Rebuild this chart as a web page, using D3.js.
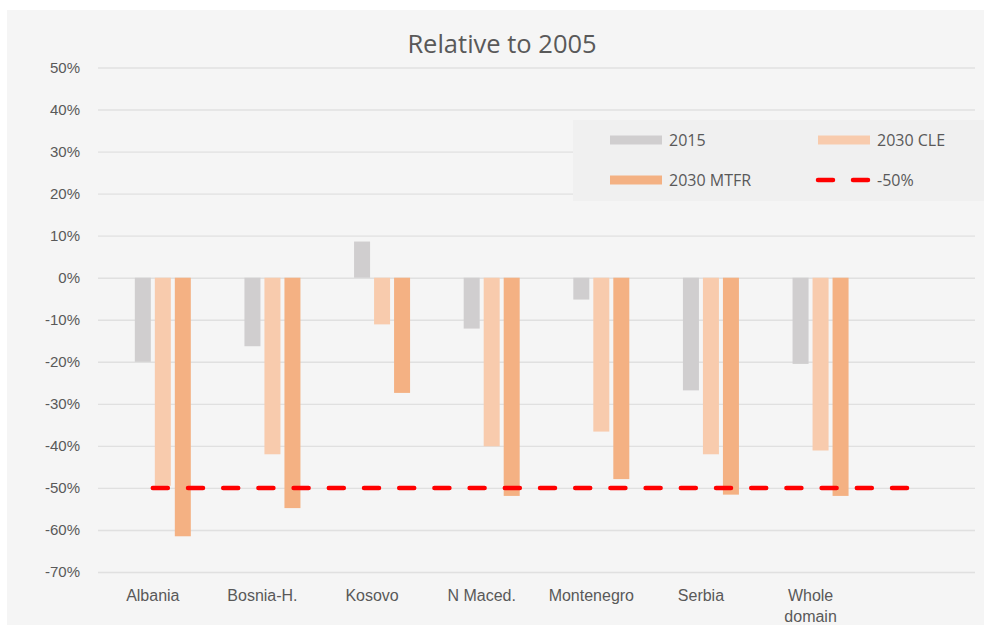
<!DOCTYPE html>
<html>
<head>
<meta charset="utf-8">
<script src="https://cdn.jsdelivr.net/npm/d3@7"></script>
<style>
  html, body { margin: 0; padding: 0; background: #ffffff; }
  svg { display: block; font-family: "Open Sans", "Noto Sans", sans-serif; }
</style>
</head>
<body>
<svg id="chart" width="984" height="625"></svg>
<script>
// Countries on the x axis; the trailing blank slot keeps the axis running past the last group.
const categories = ["Albania", "Bosnia-H.", "Kosovo", "N Maced.", "Montenegro", "Serbia", "Whole domain", ""];
// Change relative to 2005, in percent
const values2015 = [-20.0, -16.3, 8.6, -12.1, -5.2, -26.8, -20.5];
const values2030CLE = [-49.5, -42.0, -11.1, -40.1, -36.6, -42.0, -41.1];
const values2030MTFR = [-61.5, -54.8, -27.4, -51.9, -47.9, -51.6, -51.9];
// Reduction target line, one point per axis slot
const target = [-50, -50, -50, -50, -50, -50, -50, -50];
const yTicks = [50, 40, 30, 20, 10, 0, -10, -20, -30, -40, -50, -60, -70];

const barSeries = [
  { name: "2015", values: values2015, color: "#d0cecf" },
  { name: "2030 CLE", values: values2030CLE, color: "#f8cbad" },
  { name: "2030 MTFR", values: values2030MTFR, color: "#f4b183" }
];

const svg = d3.select("#chart");
const textColor = "#595959";

// chart panel
svg.append("rect").attr("x", 7).attr("y", 10).attr("width", 977).attr("height", 615).attr("fill", "#f5f5f5");

const x0 = d3.scaleBand().domain(categories).range([98, 975]).paddingInner(0).paddingOuter(0);
// each cluster leaves room for four columns; the first one stays empty
const x1 = d3.scaleBand()
  .domain(["spare"].concat(barSeries.map(s => s.name)))
  .range([x0.bandwidth() / 2 - 40, x0.bandwidth() / 2 + 40])
  .paddingInner(0.2).paddingOuter(0.1);
const y = d3.scaleLinear().domain([-70, 50]).range([572, 67.5]);

// gridlines and y labels
const yAxis = d3.axisLeft(y).tickValues(yTicks).tickFormat(d => d + "%").tickSize(-(975 - 98)).tickPadding(18);
const gy = svg.append("g").attr("transform", "translate(98,0)").call(yAxis);
gy.select(".domain").remove();
gy.selectAll(".tick line").attr("stroke", "#e0e0e0").attr("stroke-width", 1.4);
gy.selectAll(".tick text").attr("fill", textColor).attr("font-size", 15).attr("x", -18);

// x labels
const xAxis = d3.axisBottom(x0).tickSize(0).tickPadding(0);
const gx = svg.append("g").attr("transform", "translate(0,585)").call(xAxis);
gx.select(".domain").remove();
gx.selectAll(".tick text")
  .attr("fill", textColor).attr("font-size", 16).attr("dy", null).attr("y", 16)
  .each(function(d) {
    const words = d.split(" ");
    if (d === "Whole domain") {
      const t = d3.select(this).text(null);
      words.forEach((w, i) => t.append("tspan").attr("x", 0).attr("dy", i === 0 ? 0 : 21).text(w));
    }
  });

// bars
const groups = svg.append("g").selectAll("g")
  .data(barSeries).join("g").attr("fill", s => s.color);
groups.selectAll("rect")
  .data(s => s.values.map((v, i) => ({ name: s.name, cat: categories[i], v })))
  .join("rect")
  .attr("x", d => x0(d.cat) + x1(d.name))
  .attr("width", x1.bandwidth())
  .attr("y", d => y(Math.max(0, d.v)))
  .attr("height", d => Math.abs(y(d.v) - y(0)));

// -50% target line through the slot centres
const line = d3.line().x((d, i) => x0(categories[i]) + x0.bandwidth() / 2).y(d => y(d));
svg.append("path").datum(target)
  .attr("d", line).attr("fill", "none").attr("stroke", "#ff0000")
  .attr("stroke-width", 4.5).attr("stroke-dasharray", "15,20.2").attr("stroke-linecap", "round");

// title
svg.append("text").attr("x", 502).attr("y", 53).attr("text-anchor", "middle")
  .attr("fill", textColor).attr("font-size", 25.5).text("Relative to 2005");

// legend
const legend = svg.append("g");
legend.append("rect").attr("x", 573).attr("y", 120).attr("width", 411).attr("height", 81).attr("fill", "#f0f0f0");
const legendItems = [
  { name: "2015", color: "#d0cecf", x: 610, y: 140, kind: "bar" },
  { name: "2030 CLE", color: "#f8cbad", x: 818, y: 140, kind: "bar" },
  { name: "2030 MTFR", color: "#f4b183", x: 610, y: 180, kind: "bar" },
  { name: "-50%", color: "#ff0000", x: 818, y: 180, kind: "line" }
];
legendItems.forEach(it => {
  if (it.kind === "bar") {
    legend.append("rect").attr("x", it.x).attr("y", it.y - 4.5).attr("width", 52).attr("height", 9).attr("fill", it.color);
  } else {
    legend.append("line").attr("x1", it.x).attr("x2", it.x + 52).attr("y1", it.y).attr("y2", it.y)
      .attr("stroke", it.color).attr("stroke-width", 4.5).attr("stroke-linecap", "round")
      .attr("stroke-dasharray", "15,20");
  }
  legend.append("text").attr("x", it.x + 59).attr("y", it.y + 5.5).attr("fill", textColor)
    .attr("font-size", 16).text(it.name);
});
</script>
</body>
</html>
